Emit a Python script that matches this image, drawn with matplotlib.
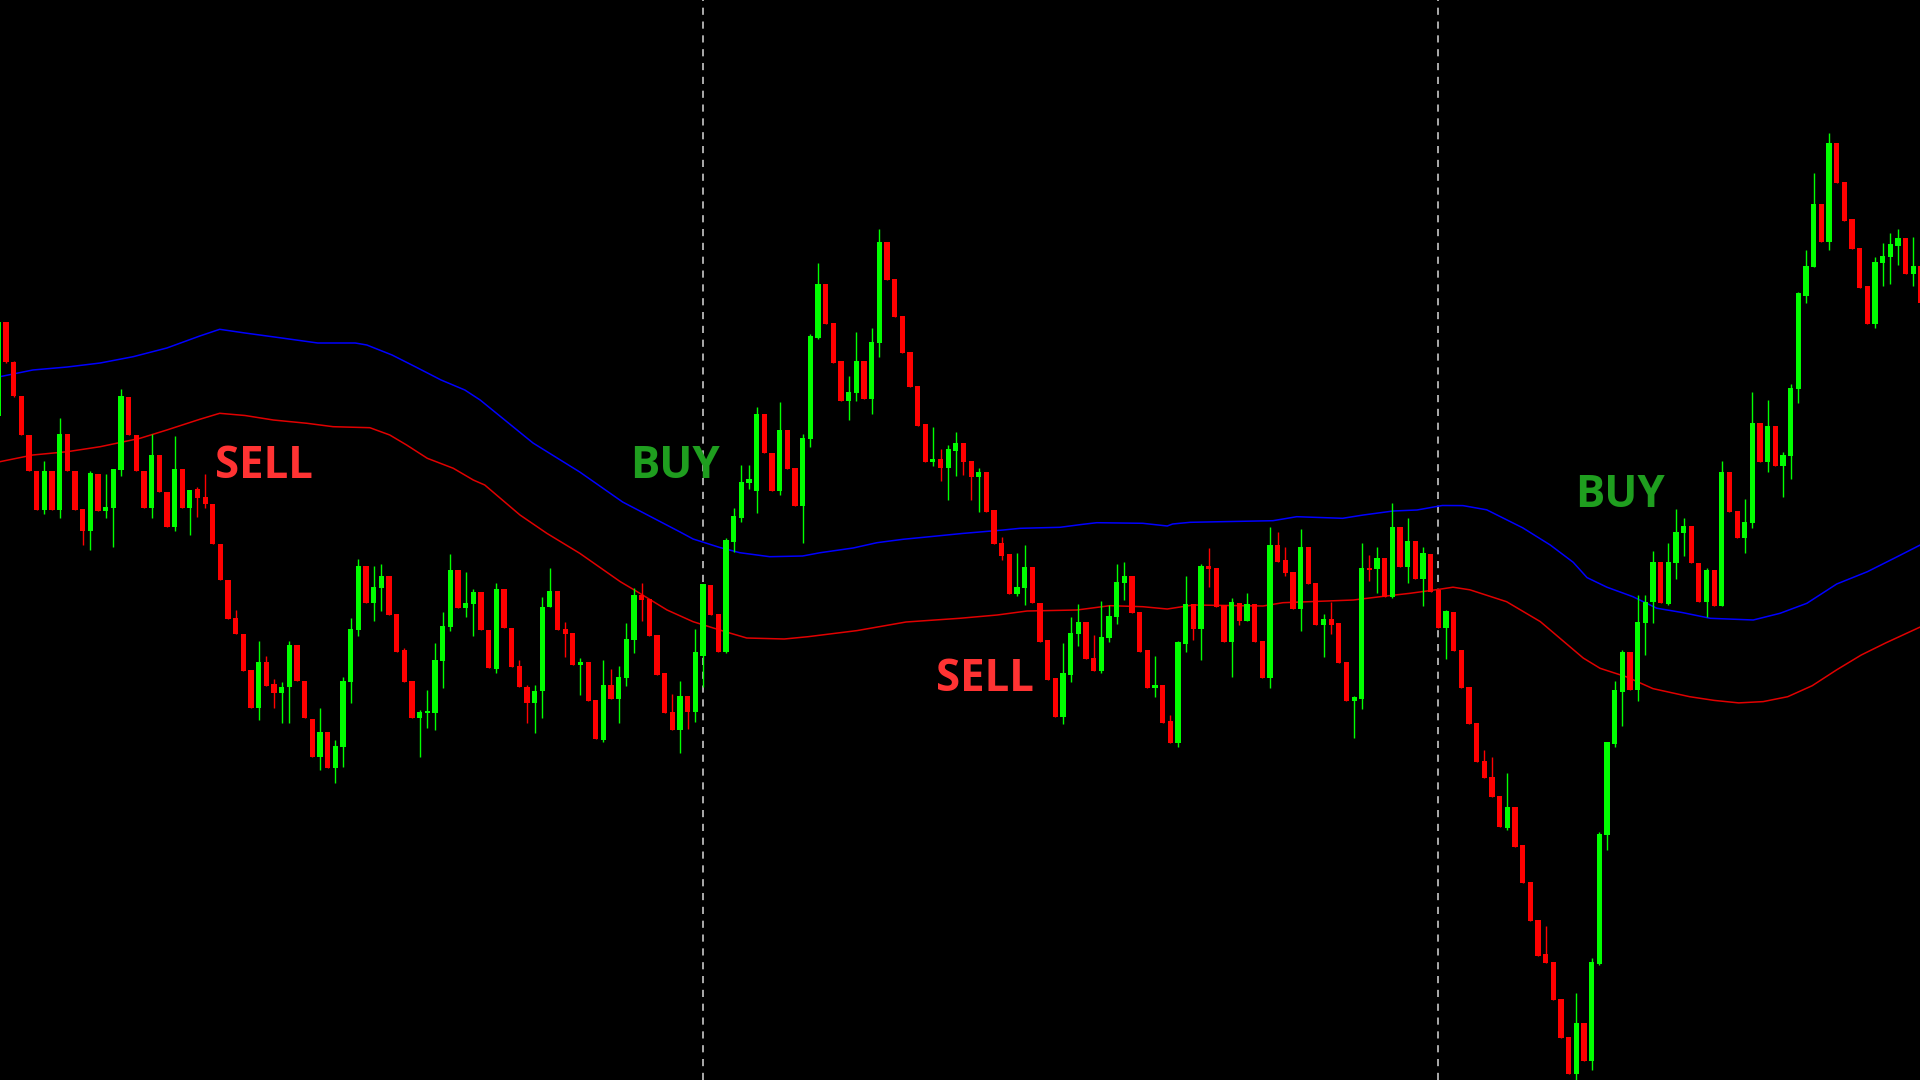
import matplotlib
matplotlib.use("Agg")
import matplotlib.pyplot as plt
import numpy as np

# ---------------- data (levels measured downward on the chart scale) ----------------
# candle OHLC per bar index 0..251
opens = [416,322,362,396,435,471,510,471,510,434,471,509,531,474,511,508,470,397,435,471,
         508,455,492,527,469,508,489,497,504,544,580,618,634,670,708,662,684,693,687,645,
         681,719,757,732,768,747,682,630,566,603,588,576,614,650,681,718,713,713,661,627,
         570,608,604,592,630,669,589,628,666,687,703,691,607,591,629,633,665,662,700,740,
         685,699,678,640,595,599,635,673,712,730,696,712,656,585,614,652,542,518,483,491,
         414,453,491,430,468,506,439,338,284,323,361,401,393,361,399,343,242,279,316,352,
         386,424,462,459,468,451,443,461,477,472,510,543,554,594,588,567,603,640,678,717,
         675,634,622,658,671,638,617,583,576,612,650,688,685,721,743,644,604,629,566,568,
         605,642,603,621,604,641,678,545,560,572,609,547,583,625,619,623,662,701,699,568,
         569,558,597,527,567,541,579,554,590,628,612,650,687,723,761,777,796,828,807,845,
         882,920,954,962,999,1037,1074,1023,1061,964,835,744,692,652,690,623,602,562,604,563,
         533,526,563,602,570,606,472,511,538,523,423,462,426,466,456,389,296,267,204,242,
         143,182,219,248,286,324,263,257,246,238,274,266]
closes = [322,362,396,435,471,510,471,510,434,471,510,531,473,511,507,469,396,435,471,508,
          455,492,527,469,508,490,498,504,544,580,619,634,671,708,662,686,693,687,645,681,
          718,757,732,768,746,681,629,566,603,587,576,615,652,682,718,712,711,660,626,570,
          608,603,592,630,668,589,628,667,687,703,691,607,591,630,634,665,662,701,739,685,
          699,677,639,595,600,636,675,713,730,696,712,652,584,615,652,540,516,482,479,414,
          453,491,430,469,506,438,336,284,324,363,401,392,361,399,342,242,280,317,353,387,
          426,462,459,468,449,443,462,477,472,512,544,556,594,587,567,603,642,680,717,673,
          633,622,659,671,637,616,582,576,613,652,688,685,723,743,642,604,629,566,569,607,
          642,602,621,604,642,678,545,562,573,609,547,584,625,619,625,663,701,697,568,570,
          558,597,527,567,541,579,553,592,628,611,651,688,724,762,778,797,827,807,847,883,
          921,956,963,1000,1038,1074,1023,1061,962,834,742,690,652,690,622,602,562,603,562,532,
          526,563,602,570,606,472,512,538,522,423,462,426,466,455,388,293,266,204,242,143,
          183,221,249,288,324,262,256,244,238,274,266,303]
highs = [298,322,361,396,435,471,461,471,418,434,471,509,471,474,474,469,389,397,435,471,
         434,455,492,436,469,490,487,474,504,544,580,610,634,670,641,656,679,682,641,645,
         681,719,708,732,740,677,618,559,566,566,564,576,614,648,681,710,690,643,612,554,
         570,572,589,592,630,583,589,628,660,685,685,597,568,591,622,633,658,662,700,660,
         669,666,623,588,583,599,635,673,694,681,696,629,584,585,614,538,508,465,465,407,
         414,453,402,430,468,434,334,263,284,323,361,376,332,361,328,229,242,279,316,352,
         386,424,427,449,445,432,443,461,468,472,510,537,554,553,545,567,603,640,678,643,
         617,604,622,635,601,605,564,562,576,612,650,656,685,715,641,576,604,564,548,568,
         605,598,603,593,604,641,527,532,547,572,529,547,583,614,602,623,662,696,543,555,
         547,558,503,527,518,541,547,554,590,610,612,650,687,723,750,757,796,773,807,845,
         882,920,926,962,999,1037,993,1023,958,832,742,681,650,652,595,595,551,562,543,509,
         518,526,563,568,570,461,472,511,499,392,423,400,426,452,384,292,250,173,204,133,
         143,182,219,248,286,257,243,233,229,238,237,266]
lows = [425,363,397,435,471,510,514,510,518,471,510,545,550,511,518,547,476,435,471,508,
        518,492,527,531,508,535,517,508,544,580,619,634,671,708,720,686,708,723,723,681,
        718,757,770,768,783,767,703,636,603,621,611,615,652,682,718,757,728,730,688,631,
        608,617,636,630,668,673,628,667,687,723,733,718,607,630,657,665,695,701,739,742,
        699,723,686,653,621,636,675,713,730,753,729,722,687,615,652,653,552,522,489,513,
        453,491,495,469,506,543,447,339,324,363,401,420,401,399,414,357,280,317,353,387,
        426,462,466,481,500,476,475,500,512,512,544,560,594,596,605,603,642,680,717,724,
        682,646,659,671,673,642,624,600,613,652,688,697,723,743,747,652,640,660,587,607,
        642,677,625,621,642,678,688,562,576,609,631,584,625,657,634,663,701,738,709,581,
        593,597,598,567,583,579,606,592,628,659,651,688,724,762,778,797,827,830,847,883,
        921,956,963,1000,1038,1074,1080,1061,1070,965,850,747,726,690,701,655,623,603,605,579,
        556,563,602,617,606,606,512,538,553,528,462,472,466,497,479,403,303,267,242,250,
        183,221,249,288,324,328,286,284,265,274,286,303]

# upper (blue) and lower (red) envelope lines: (bar index, level)
blue_idx = [0.2,4.5,9.0,13.3,17.6,22.0,26.3,28.9,32.2,37.0,41.7,46.6,48.1,51.4,54.5,57.8,
            60.9,62.9,69.8,75.9,81.5,89.0,90.7,94.2,96.8,100.7,105.0,107.3,111.6,114.7,
            118.1,121.6,125.8,131.2,133.4,138.6,141.6,143.4,149.4,152.6,153.3,155.6,166.4,
            169.5,175.5,178.2,182.1,185.2,188.5,191.2,194.3,199.0,202.6,205.6,207.4,210.0,
            213.4,216.5,219.8,223.5,229.1,232.6,236.1,240.0,244.0,247.9,250.9]
blue_lvl = [376.7,370,367,363,356.7,348,336,329.3,333,338,343,343,345,355,367,380,
            390,400,443,472,502,532,539,547.5,552.7,556.7,556,552.7,548,542.7,
            539.3,536.7,533.5,530,528.3,527.3,524.3,522.7,523.3,526,524,522.3,520.7,
            516.7,518.3,515,511,510,505.5,505.6,509.8,527.8,545,562.3,577.6,587.2,
            596.7,608.2,612.5,618.3,620,613.3,603.3,584,571.7,556.7,545]
red_idx = [0.2,4.5,9.0,13.3,18.5,22.0,26.3,28.9,32.2,35.9,40.3,43.7,48.5,51.1,53.3,56.0,
           59.4,62.0,63.5,68.1,71.6,75.9,81.2,83.4,87.3,90.7,94.9,97.7,102.6,105.7,112.1,
           118.5,125.5,130.4,134.3,140.8,145.1,149.4,152.6,156.0,165.1,167.7,176.9,180.4,
           184.3,188.2,189.9,192.1,196.9,201.3,206.9,209.1,212.6,216.0,220.8,224.0,227.2,
           230.4,233.6,236.8,240.0,243.2,246.4,250.9]
red_lvl = [461.7,455,451.7,446.7,438.3,430,419.3,413.3,415.5,420,423.3,426.7,427.7,435,445,458.3,
           468.3,480,485,515,533.3,553.3,581.7,591.7,610,621.7,631.7,638,639,636.7,630.6,
           622,618.3,615,611,610,605.7,606.7,609,605,606,602.7,600,596.7,
           593.3,589.2,587.2,589.8,601.7,621.6,658,668.3,677,688.6,696.7,700.4,702.9,
           701.6,696.7,685.7,669.8,655,642.9,627]

# period separators (bar index)
separators = [92, 188]

# signal labels: text, bar index of left edge, baseline level
labels = ["SELL", "BUY", "SELL", "BUY"]
label_idx = [28.35, 82.5, 122.4, 205.8]
label_lvl = [478, 478, 691, 507]

# ---------------- drawing ----------------
BULL = "#00ff00"
BEAR = "#ff0000"
label_colors = {"SELL": "#ff3333", "BUY": "#1f9e1f"}

fig = plt.figure(figsize=(19.2, 10.8), dpi=100, facecolor="black")
ax = fig.add_axes([0, 0, 1, 1])
ax.set_facecolor("black")

o = np.array(opens, float)
c = np.array(closes, float)
h = np.array(highs, float)
l = np.array(lows, float)
x = np.arange(len(o))
bull = c <= o
cols = np.where(bull, BULL, BEAR)

for sx in separators:
    ax.axvline(sx, color="#c8c8c8", lw=1.2, linestyle=(0, (4.3, 4.0)), zorder=1)

ax.plot(blue_idx, blue_lvl, color="#0000ff", lw=1.1, zorder=2)
ax.plot(red_idx, red_lvl, color="#e00000", lw=1.1, zorder=2)

ax.vlines(x, h, l, colors=cols, lw=1.0, zorder=3)
bottom = np.minimum(o, c)
height = np.maximum(np.abs(c - o), 1.5)
ax.bar(x, height, bottom=bottom, width=0.69, color=cols, linewidth=0, zorder=4)

for t, xi, yi in zip(labels, label_idx, label_lvl):
    ax.text(xi, yi, t, color=label_colors[t], fontsize=31.5, fontweight="bold",
            family=["Open Sans", "DejaVu Sans"], ha="left", va="baseline", zorder=5)

ax.set_xlim(0.217, 250.87)
ax.set_ylim(1080, 0)
ax.axis("off")

fig.savefig("out.png", dpi=100, facecolor="black")
